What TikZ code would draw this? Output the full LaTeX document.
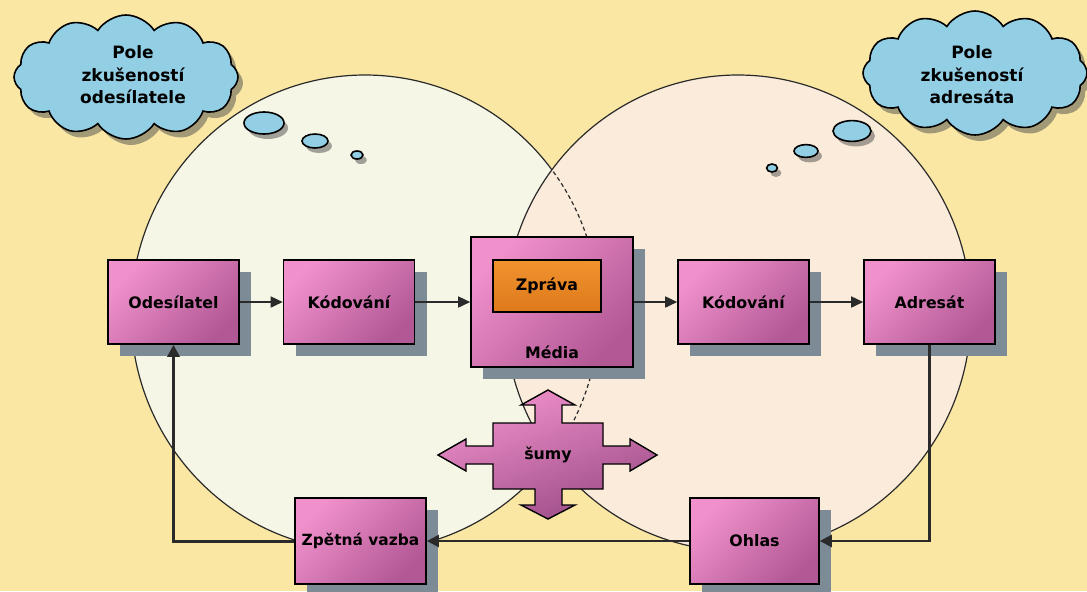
\documentclass[tikz,border=0pt]{standalone}
\usepackage{fontspec}
\setmainfont{DejaVu Sans}
\usetikzlibrary{shapes.symbols,shadows,arrows.meta}
\definecolor{bg}{HTML}{FAE7A4}
\definecolor{lcirc}{HTML}{F5F6E6}
\definecolor{rcirc}{HTML}{FBEBDA}
\definecolor{cloudc}{HTML}{92CFE5}
\definecolor{pinkL}{HTML}{F091CB}
\definecolor{pinkD}{HTML}{B25895}
\definecolor{purpD}{HTML}{9C4C87}
\definecolor{shadowc}{HTML}{7D8B97}
\definecolor{orangeL}{HTML}{F0922E}
\definecolor{orangeD}{HTML}{DE7A1C}
\definecolor{edge}{HTML}{2A2A2A}
\begin{document}
\begin{tikzpicture}[x=0.5pt,y=-0.5pt,
  font=\bfseries\fontsize{7.9}{11}\selectfont,
  box/.style={draw=black, line width=0.8pt, top color=pinkL, bottom color=pinkD,
    shading angle=45, minimum width=65.5pt, minimum height=42pt, inner sep=0pt,
    drop shadow={shadow xshift=6pt, shadow yshift=-6pt, fill=shadowc, opacity=1}},
  lbl/.style={inner sep=0pt},
  cltext/.style={inner sep=0pt, align=center, font=\bfseries\fontsize{8.5}{11.2}\selectfont},
  arr/.style={-{Triangle[length=6pt,width=5.5pt]}, line width=0.8pt, draw=edge},
  fb/.style={-{Triangle[length=6pt,width=6pt]}, line width=1.3pt, draw=edge},
  bubble/.style={draw=black, line width=0.8pt, fill=cloudc,
    drop shadow={shadow xshift=2pt, shadow yshift=-2.5pt, fill=black!70, opacity=0.5}},
  cloudshape/.style={cloud, cloud puffs=12, cloud puff arc=115, aspect=1.8,
    draw=black, line width=0.8pt, fill=cloudc, inner sep=0pt,
    minimum width=112pt, minimum height=62pt,
    drop shadow={shadow xshift=2.5pt, shadow yshift=-3pt, fill=black!70, opacity=0.5}}
]
\useasboundingbox (0,0) rectangle (1087,591);
\fill[bg] (0,0) rectangle (1087,591);

% circles
\fill[lcirc] (365,313) ellipse [x radius=117pt, y radius=119pt];
\draw[edge, line width=0.6pt] (365,313) ellipse [x radius=117pt, y radius=119pt];
\fill[rcirc] (738,313) ellipse [x radius=116.5pt, y radius=119pt];
\draw[edge, line width=0.6pt] (738,313) ellipse [x radius=116.5pt, y radius=119pt];
\begin{scope}
  \clip (738,313) ellipse [x radius=116.5pt, y radius=119pt];
  \draw[edge, line width=0.6pt, dash pattern=on 2pt off 1.5pt] (365,313) ellipse [x radius=117pt, y radius=119pt];
\end{scope}

% thought bubbles
\draw[bubble] (264,123) ellipse [x radius=10pt, y radius=5.5pt];
\draw[bubble] (315,141) ellipse [x radius=6.5pt, y radius=3.5pt];
\draw[bubble] (357,155) ellipse [x radius=3pt, y radius=2pt];
\draw[bubble] (852,131) ellipse [x radius=9.5pt, y radius=5.2pt];
\draw[bubble] (806,151) ellipse [x radius=6pt, y radius=3.2pt];
\draw[bubble] (772,168) ellipse [x radius=2.7pt, y radius=2pt];

% clouds
\node[cloudshape] (cl1) at (126,77) {};
\node[cltext] (cl1t) at (133,75) {Pole\\zkušeností\\odesílatele};
\node[cloudshape] (cl2) at (975,73) {};
\node[cltext] (cl2t) at (972,75) {Pole\\zkušeností\\adresáta};

% boxes
\node[box] (ode) at (173.5,302) {Odesílatel};
\node[box] (kod1) at (349,302) {Kódování};
\node[box, minimum width=81pt, minimum height=65pt] (med) at (552,302) {};
\node[draw=black, line width=0.8pt, top color=orangeL, bottom color=orangeD,
  minimum width=54pt, minimum height=26pt, inner sep=0pt] (zpr) at (547,286) {Zpráva};
\node[lbl] (medt) at (552,352) {Média};
\node[box] (kod2) at (743.5,302) {Kódování};
\node[box] (adr) at (929.5,302) {Adresát};
\node[box, minimum height=43pt, font=\bfseries\fontsize{7.7}{11}\selectfont] (zv) at (360.5,541) {Zpětná vazba};
\node[box, minimum width=64.5pt, minimum height=43pt] (ohl) at (754.5,541) {Ohlas};

% top arrows
\draw[arr] (ode.east) -- (kod1.west);
\draw[arr] (kod1.east) -- (med.west);
\draw[arr] (med.east) -- (kod2.west);
\draw[arr] (kod2.east) -- (adr.west);

% feedback loop
\draw[fb] (adr.south) |- (ohl.east);
\draw[fb, line width=1pt] (ohl.west) -- (zv.east);
\draw[fb, line width=1.5pt] (zv.west) -| (ode.south);

% noise cross
\draw[black, line width=0.7pt, top color=pinkL, bottom color=purpD, shading angle=20]
  (548,390) -- (575,405) -- (562,405) -- (562,423) -- (603,423) -- (603,446) --
  (630,446) -- (630,439) -- (657,455) -- (630,471) -- (630,464) -- (603,464) --
  (603,489) -- (562,489) -- (562,505) -- (575,505) -- (548,519) -- (521,505) --
  (535,505) -- (535,489) -- (493,489) -- (493,464) -- (466,464) -- (466,471) --
  (438,455) -- (466,439) -- (466,446) -- (493,446) -- (493,423) -- (535,423) --
  (535,405) -- (521,405) -- cycle;
\node[lbl] (sumy) at (548,455) {šumy};
\end{tikzpicture}
\end{document}
